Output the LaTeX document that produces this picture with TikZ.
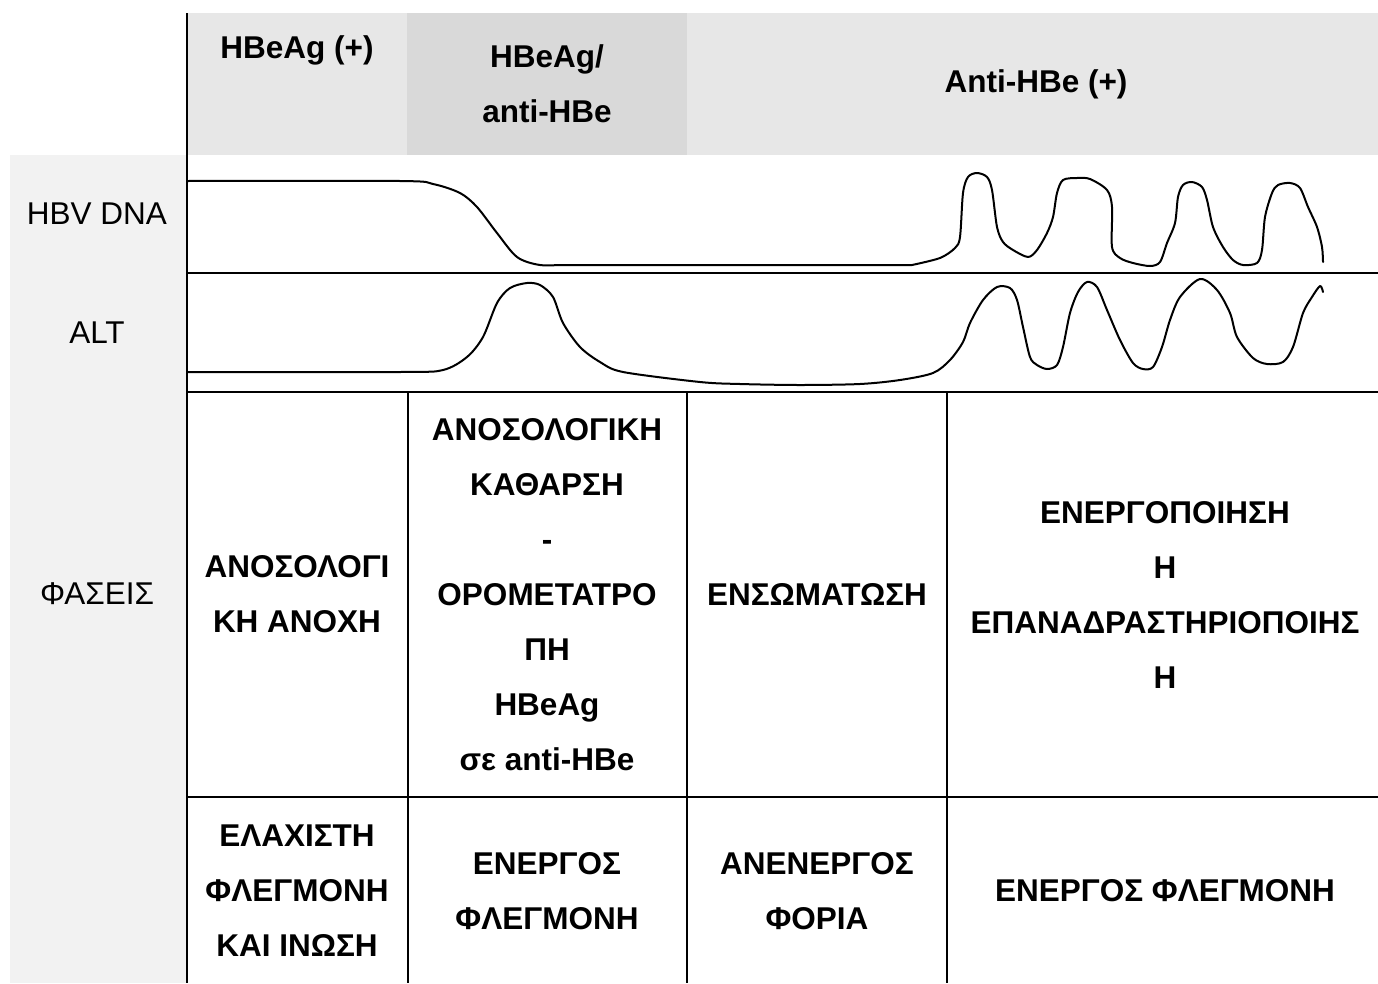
\documentclass[tikz,border=0pt]{standalone}
\usepackage{fontspec}
\setmainfont{Liberation Sans}
\begin{document}
\begin{tikzpicture}[x=1pt,y=-1pt,
  grid/.style={line width=2.2pt,black},
  curve/.style={line width=2pt,black,line join=round,line cap=round},
  txt/.style={font=\fontsize{31.5}{55}\selectfont,align=center,inner sep=0pt},
  btxt/.style={txt,font=\fontsize{31.5}{55}\selectfont\bfseries}]
\useasboundingbox (0,0) rectangle (1378,983);
% backgrounds
\fill[fill={rgb,255:red,231;green,231;blue,231}] (187,13) rectangle (407,155);
\fill[fill={rgb,255:red,217;green,217;blue,217}] (407,13) rectangle (687,155);
\fill[fill={rgb,255:red,231;green,231;blue,231}] (687,13) rectangle (1378,155);
\fill[fill={rgb,255:red,242;green,242;blue,242}] (10,155) rectangle (187,983);
% grid lines
\coordinate (v0t) at (187,13);   \coordinate (v0b) at (187,983);
\coordinate (h1l) at (187,273);  \coordinate (h1r) at (1378,273);
\coordinate (h2l) at (187,392);  \coordinate (h2r) at (1378,392);
\coordinate (h3l) at (187,797);  \coordinate (h3r) at (1378,797);
\coordinate (v1t) at (408,392);  \coordinate (v1b) at (408,983);
\coordinate (v2t) at (687,392);  \coordinate (v2b) at (687,983);
\coordinate (v3t) at (947,392);  \coordinate (v3b) at (947,983);
\draw[grid] (v0t) -- (v0b);
\draw[grid] (h1l) -- (h1r);
\draw[grid] (h2l) -- (h2r);
\draw[grid] (h3l) -- (h3r);
\draw[grid] (v1t) -- (v1b);
\draw[grid] (v2t) -- (v2b);
\draw[grid] (v3t) -- (v3b);
% header texts
\node[btxt] (hA) at (297,50) {HBeAg (+)};
\node[btxt] (hB) at (547,84) {HBeAg/\\anti-HBe};
\node[btxt] (hC) at (1036,84) {Anti-HBe (+)};
% left labels
\node[txt] (lDNA) at (97,214) {HBV DNA};
\node[txt] (lALT) at (97,333) {ALT};
\node[txt] (lPh) at (97,594) {ΦΑΣΕΙΣ};
% phase cells
\node[btxt] (p1) at (297,594) {ΑΝΟΣΟΛΟΓΙ\\ΚΗ ΑΝΟΧΗ};
\node[btxt] (p2) at (547,595) {ΑΝΟΣΟΛΟΓΙΚΗ\\ΚΑΘΑΡΣΗ\\-\\ΟΡΟΜΕΤΑΤΡΟ\\ΠΗ\\HBeAg\\σε anti-HBe};
\node[btxt] (p3) at (817,594) {ΕΝΣΩΜΑΤΩΣΗ};
\node[btxt] (p4) at (1165,595) {ΕΝΕΡΓΟΠΟΙΗΣΗ\\Η\\ΕΠΑΝΑΔΡΑΣΤΗΡΙΟΠΟΙΗΣ\\Η};
% bottom row
\node[btxt] (b1) at (297,891) {ΕΛΑΧΙΣΤΗ\\ΦΛΕΓΜΟΝΗ\\ΚΑΙ ΙΝΩΣΗ};
\node[btxt] (b2) at (547,891) {ΕΝΕΡΓΟΣ\\ΦΛΕΓΜΟΝΗ};
\node[btxt] (b3) at (817,891) {ΑΝΕΝΕΡΓΟΣ\\ΦΟΡΙΑ};
\node[btxt] (b4) at (1165,891) {ΕΝΕΡΓΟΣ ΦΛΕΓΜΟΝΗ};
% HBV DNA curve
\draw[curve] plot[smooth,tension=0.5] coordinates {
 (187,181) (400,181) (433,184) (460,193) (477,207) (497,233) (517,257) (540,265) (570,265)
 (700,265) (912,265)};
\draw[curve] plot[smooth,tension=0.5] coordinates {
 (912,265) (940,258) (955,248) (960,237) (963,193) (968,177) (977,173) (987,177) (992,190)
 (997,227) (1003,242) (1013,250) (1028,257) (1037,250) (1047,233) (1053,217) (1057,193) (1063,180)
 (1077,178) (1090,179) (1107,190) (1112,207) (1112,247) (1120,258) (1133,263) (1150,266) (1160,262)
 (1167,243) (1175,223) (1178,197) (1183,185) (1192,182) (1202,187) (1207,200) (1213,227) (1223,247)
 (1233,260) (1243,265) (1257,263) (1262,250) (1265,217) (1272,193) (1278,185) (1290,183) (1300,188)
 (1308,207) (1317,227) (1322,247) (1323,262)};
% ALT curve
\draw[curve] plot[smooth,tension=0.5] coordinates {
 (187,372) (400,372) (443,370) (467,357) (483,337) (497,303) (510,288) (527,283) (540,285)
 (553,297) (563,323) (580,347) (600,362) (623,372) (700,382) (740,384) (800,385) (860,384)
 (900,380) (933,373) (950,360) (963,342) (970,323) (983,300) (997,287) (1010,288) (1017,300)
 (1023,327) (1030,357) (1037,365) (1047,369) (1057,365) (1063,347) (1070,313) (1078,292)
 (1087,282) (1097,287) (1107,310) (1120,340) (1133,363) (1143,369) (1153,367) (1162,347)
 (1170,320) (1180,297) (1200,279) (1217,290) (1230,313) (1237,337) (1253,358) (1267,364)
 (1283,362) (1293,347) (1303,313) (1312,297) (1320,286) (1323,292)};
\end{tikzpicture}
\end{document}
